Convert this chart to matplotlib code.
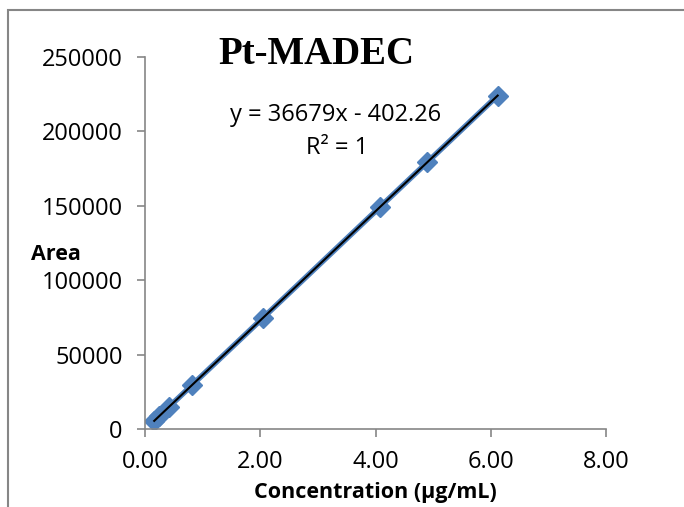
import numpy as np
from matplotlib import pyplot as plt
from matplotlib.patches import Rectangle

# Pt-MADEC calibration data
conc = [0.16, 0.25, 0.42, 0.816, 2.04, 4.08, 4.896, 6.12]
area = [5470, 8770, 15000, 29530, 74420, 149250, 179180, 224080]
x_ticks = [0, 2, 4, 6, 8]
y_ticks = [0, 50000, 100000, 150000, 200000, 250000]

plt.rcParams['font.family'] = ['Open Sans', 'DejaVu Sans']
gray = '#868686'
blue = '#4F81BD'

fig = plt.figure(figsize=(6.84, 5.07), dpi=100)
ax = fig.add_axes([145/684, 1-429/507, (606-145)/684, (429-57)/507])

ax.plot(conc, area, color=blue, lw=4, marker='D', ms=10, mec=blue, mfc=blue, zorder=2)

# linear trendline
slope, intercept = np.polyfit(conc, area, 1)
xs = np.array([conc[0], conc[-1]])
ax.plot(xs, slope*xs + intercept, color='black', lw=1.5, zorder=3)

ax.set_xlim(0, 8)
ax.set_ylim(0, 250000)
ax.set_xticks(x_ticks)
ax.set_xticklabels([f"{v:.2f}" for v in x_ticks])
ax.set_yticks(y_ticks)
ax.set_yticklabels([str(v) for v in y_ticks])
ax.tick_params(labelsize=17, colors=gray, labelcolor='black', length=6, width=1.2)
ax.tick_params(axis='y', pad=10)
ax.tick_params(axis='x', pad=9)

for s in ['top', 'right']:
    ax.spines[s].set_visible(False)
for s in ['left', 'bottom']:
    ax.spines[s].set_color(gray)
    ax.spines[s].set_linewidth(1.2)

ax.set_xlabel("Concentration (µg/mL)", fontsize=15.5, fontweight='bold', labelpad=6)
fig.text(31/684, 1-255/507, "Area", fontsize=15.5, fontweight='bold', va='center', ha='left')

fig.text(316/684, 1-55/507, "Pt-MADEC", fontsize=28, fontweight='bold',
         family='Liberation Serif', ha='center', va='center')
fig.text(336/684, 1-115/507, "y = 36679x - 402.26", fontsize=17, ha='center', va='center')
fig.text(337/684, 1-148/507, "R² = 1", fontsize=17, ha='center', va='center')

# chart border (only top and left edges fall inside the crop)
fig.add_artist(Rectangle((8/684, -0.1), 1.2, 1.1 - 10/507, transform=fig.transFigure,
                         fill=False, edgecolor=gray, lw=1.5))

fig.savefig("out.png", dpi=100)
